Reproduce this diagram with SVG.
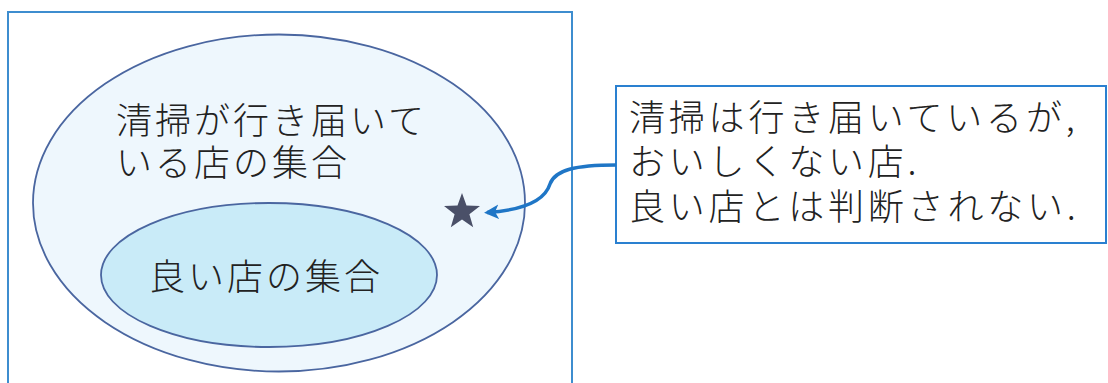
<svg xmlns="http://www.w3.org/2000/svg" width="1108" height="383" viewBox="0 0 1108 383">
<style>
.t{font-family:"Noto Sans CJK JP","Noto Sans CJK SC",sans-serif;font-size:36px;font-weight:300;fill:#222;letter-spacing:3px}
.c{letter-spacing:3.8px}
.set{stroke:#4a66a0;stroke-width:1.8}
</style>
<defs>
<marker id="ah" viewBox="0 0 10 10" refX="8" refY="5" markerWidth="4.2" markerHeight="4.2" orient="auto" markerUnits="strokeWidth">
<path d="M0,0 L10,5 L0,10 L2.5,5 Z" fill="#1f76c6"/>
</marker>
</defs>
<rect width="1108" height="383" fill="#fff"/>
<g id="universe">
<rect x="8" y="12" width="564" height="390" fill="#fff" stroke="#3d8dcf" stroke-width="2"/>
</g>
<g id="clean-set">
<ellipse class="set" cx="279" cy="203" rx="246" ry="168.5" fill="#eef7fd"/>
<text class="t" x="116" y="134">清掃が行き届いて</text>
<text class="t" x="116" y="176">いる店の集合</text>
</g>
<g id="good-set">
<ellipse class="set" cx="269" cy="275" rx="168" ry="72" fill="#c9ebf8"/>
<text class="t" x="149" y="290">良い店の集合</text>
</g>
<g id="star">
<polygon points="462,193 466.5,205.6 480,206 469.4,214.3 473.2,227.2 462,219.6 450.8,227.2 454.6,214.3 444,206 457.5,205.6" fill="#4a5068"/>
</g>
<g id="callout">
<rect x="616" y="86" width="490" height="157" fill="#fff" stroke="#2a80d0" stroke-width="2"/>
<text class="t c" x="629" y="131">清掃は行き届いているが,</text>
<text class="t c" x="629" y="175">おいしくない店.</text>
<text class="t c" x="629" y="220">良い店とは判断されない.</text>
</g>
<g id="connectors">
<path d="M616,165 C575,165 555,170 550,184 C545,200 525,210 487,212.5" fill="none" stroke="#1f76c6" stroke-width="3.5" marker-end="url(#ah)"/>
</g>
</svg>
